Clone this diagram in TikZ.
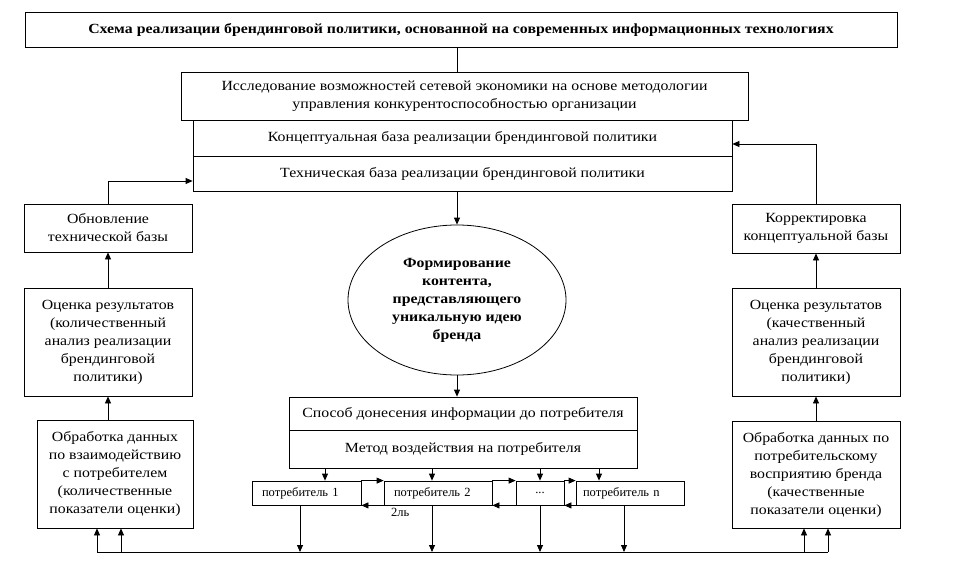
\documentclass[tikz,border=0pt]{standalone}
\usepackage{fontspec}
\setmainfont{Liberation Serif}[FakeStretch=1.13]
\newfontfamily\consfont{Liberation Serif}
\usetikzlibrary{arrows.meta,shapes.geometric,calc}
\newcommand{\bodyfs}{\fontsize{14}{18}\selectfont}
\newcommand{\titlefs}{\fontsize{14}{18}\selectfont\bfseries}
\newcommand{\smallfs}{\consfont\fontsize{12.5}{15}\selectfont}
\tikzset{
  box/.style={draw, line width=0.8pt, inner sep=0pt, align=center, font=\bodyfs},
  cbox/.style={draw, line width=0.8pt, inner sep=0pt, font=\smallfs, minimum height=24pt},
  arr/.style={-{Triangle[length=7pt,width=6pt]}, line width=0.8pt},
  ln/.style={line width=0.8pt}
}
\begin{document}
\begin{tikzpicture}[x=1pt,y=-1pt]
\useasboundingbox (0,0) rectangle (961,565);
\node[box, minimum width=872pt, minimum height=35pt, font=\titlefs] (title) at (461,29.5) {Схема реализации брендинговой политики, основанной на современных информационных технологиях};
\node[box, minimum width=567pt, minimum height=48pt] (research) at (464.5,96) {Исследование возможностей сетевой экономики на основе методологии\\управления конкурентоспособностью организации};
\node[box, minimum width=539pt, minimum height=36pt] (concept) at (462.5,138) {Концептуальная база реализации брендинговой политики};
\node[box, minimum width=539pt, minimum height=35pt] (tech) at (462.5,173.5) {Техническая база реализации брендинговой политики};
\node[draw, ellipse, line width=0.8pt, inner sep=0pt, minimum width=218pt, minimum height=150pt, align=center, font=\bodyfs\bfseries] (ell) at (457,300) {Формирование\\контента,\\представляющего\\уникальную идею\\бренда};
\node[box, minimum width=348pt, minimum height=33pt] (meth1) at (463,413.5) {Способ донесения информации до потребителя};
\node[box, minimum width=348pt, minimum height=38pt] (meth2) at (463,449) {Метод воздействия на потребителя};
\node[cbox, minimum width=109pt, text width=89pt, align=left] (c1) at (306.5,493) {потребитель 1};
\node[cbox, minimum width=108pt, text width=88pt, align=left] (c2) at (438,493) {потребитель 2};
\node[cbox, minimum width=48pt, align=center] (c3) at (540,493) {...};
\node[cbox, minimum width=108pt, text width=94pt, align=left] (c4) at (630,493) {потребитель n};
\node[font=\smallfs, anchor=west, inner sep=0pt] (stray) at (391,512) {2ль};
\node[box, minimum width=168pt, minimum height=48pt] (upd) at (108,228) {Обновление\\технической базы};
\node[box, minimum width=168pt, minimum height=108pt] (evalL) at (108,342) {Оценка результатов\\(количественный\\анализ реализации\\брендинговой\\политики)};
\node[box, minimum width=156pt, minimum height=108pt] (dataL) at (115,474) {Обработка данных\\по взаимодействию\\с потребителем\\(количественные\\показатели оценки)};
\node[box, minimum width=168pt, minimum height=49pt] (corr) at (816,228.5) {Корректировка\\концептуальной базы};
\node[box, minimum width=168pt, minimum height=108pt] (evalR) at (816,342) {Оценка результатов\\(качественный\\анализ реализации\\брендинговой\\политики)};
\node[box, minimum width=168pt, minimum height=107pt] (dataR) at (816,474.5) {Обработка данных по\\потребительскому\\восприятию бренда\\(качественные\\показатели оценки)};
\coordinate (bl) at (97,552);
\coordinate (br) at (828,552);
% top chain
\draw[ln] (title.south -| ell.north) -- (research.north -| ell.north);
\draw[arr] (tech.south -| ell.north) -- (ell.north);
\draw[arr] (ell.south) -- (meth1.north -| ell.south);
% method to consumers
\draw[arr] (meth2.south -| 325,0) -- (c1.north -| 325,0);
\draw[arr] (meth2.south -| 432,0) -- (c2.north -| 432,0);
\draw[arr] (meth2.south -| 540,0) -- (c3.north -| 540,0);
\draw[arr] (meth2.south -| 599,0) -- (c4.north -| 599,0);
% consumers links
\draw[arr] (c1.north east) -- (c2.north west);
\draw[arr] (c2.south west) -- (c1.south east);
\draw[arr] (c2.north east) -- (c3.north west);
\draw[arr] (c3.south west) -- (c2.south east);
\draw[arr] (c3.north east) -- (c4.north west);
\draw[arr] (c4.south west) -- (c3.south east);
% consumers to bottom line
\draw[arr] (c1.south -| 300,0) -- (bl -| 300,0);
\draw[arr] (c2.south -| 432,0) -- (bl -| 432,0);
\draw[arr] (c3.south -| 540,0) -- (bl -| 540,0);
\draw[arr] (c4.south -| 624,0) -- (bl -| 624,0);
\draw[ln] (bl) -- (br);
\draw[arr] (bl) -- (dataL.south -| bl);
\draw[arr] (bl -| 121,0) -- (dataL.south -| 121,0);
\draw[arr] (br) -- (dataR.south -| br);
\draw[arr] (br -| 804,0) -- (dataR.south -| 804,0);
% left column
\draw[arr] (dataL.north -| evalL.south) -- (evalL.south);
\draw[arr] (evalL.north) -- (upd.south);
\draw[arr] (upd.north) |- (tech.west |- 0,181);
% right column
\draw[arr] (dataR.north) -- (evalR.south);
\draw[arr] (evalR.north) -- (corr.south);
\draw[arr] (corr.north) |- (concept.east |- 0,144);
\end{tikzpicture}
\end{document}
